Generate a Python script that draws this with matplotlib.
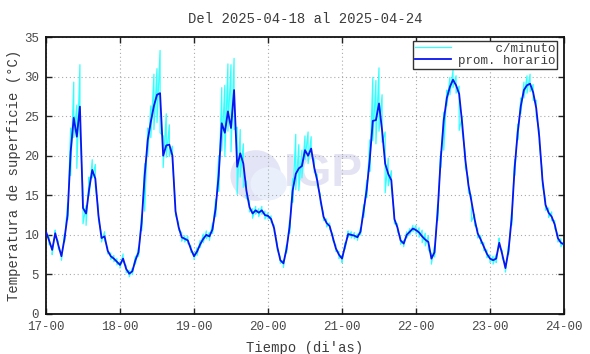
#!/usr/bin/python
# -*- coding: utf-8 -*-
# temperatura de superficie, promedio horario y datos por minuto (estilo gnuplot)

import numpy as np
import matplotlib as mpl
mpl.use('Agg')
from matplotlib import pyplot as plt
from matplotlib.lines import Line2D
from matplotlib.patches import Ellipse

##########################################################################################
# data: hourly means per day, 00h .. 23h
days = [17, 18, 19, 20, 21, 22, 23]

prom_17 = [10.4, 9.3, 8.1, 10.2, 8.7, 7.3, 9.5, 12.5, 20.5, 24.8, 22.4, 26.2,
           13.4, 12.7, 15.8, 18.2, 17.1, 12.5, 9.6, 9.8, 8.0, 7.3, 7.0, 6.6]
prom_18 = [6.2, 7.0, 5.7, 5.1, 5.4, 6.8, 7.8, 11.5, 17.5, 22.0, 24.3, 26.3,
           27.7, 27.9, 20.0, 21.3, 21.4, 20.0, 13.0, 11.0, 9.7, 9.5, 9.3, 8.2]
prom_19 = [7.3, 7.9, 8.8, 9.5, 10.0, 9.8, 10.7, 13.3, 17.5, 24.1, 22.9, 25.6,
           23.5, 28.3, 18.6, 20.3, 19.0, 15.6, 13.5, 12.7, 13.1, 12.8, 13.1, 12.5]
prom_20 = [12.4, 12.0, 10.8, 8.5, 6.8, 6.4, 8.2, 11.0, 15.6, 17.7, 18.4, 18.7,
           20.7, 20.0, 20.9, 18.5, 16.8, 14.5, 12.3, 11.5, 11.1, 9.7, 8.3, 7.5]
prom_21 = [7.0, 8.6, 10.1, 10.0, 9.9, 9.7, 10.4, 13.0, 15.7, 19.5, 24.4, 24.5,
           26.6, 23.2, 19.0, 17.7, 16.9, 12.0, 10.9, 9.3, 8.9, 10.0, 10.4, 10.8]
prom_22 = [10.6, 10.3, 9.8, 9.4, 9.1, 7.0, 7.8, 12.8, 19.5, 24.5, 27.3, 28.7,
           29.6, 28.9, 27.8, 24.0, 19.5, 16.3, 14.2, 12.0, 10.2, 9.4, 8.5, 7.6]
prom_23 = [7.0, 6.8, 7.0, 9.0, 7.5, 5.8, 8.0, 12.0, 18.5, 23.0, 26.3, 28.3,
           28.9, 29.1, 28.0, 26.0, 22.3, 17.0, 13.8, 12.8, 12.3, 11.3, 9.6, 9.0]
prom_end = 8.8   # value at 24-00

# per-minute data: largest excursion above / below the hourly mean in each hour
sube_17 = [0.4, 0.5, 0.4, 0.4, 0.5, 0.4, 0.6, 1.5, 3.0, 4.5, 4.0, 5.3,
           2.0, 1.0, 1.5, 1.3, 1.8, 0.8, 0.5, 0.6, 0.4, 0.4, 0.4, 0.4]
baja_17 = [0.4, 0.5, 0.6, 0.4, 0.5, 0.5, 0.4, 0.6, 3.0, 2.5, 4.0, 3.0,
           2.0, 1.5, 0.8, 1.0, 1.0, 0.6, 0.5, 0.5, 0.4, 0.4, 0.4, 0.4]
sube_18 = [0.4, 0.6, 0.4, 0.4, 0.4, 0.5, 0.6, 1.0, 1.5, 1.5, 2.0, 4.0,
           3.3, 5.4, 2.5, 4.0, 2.5, 1.2, 0.8, 0.5, 0.6, 0.4, 0.5, 0.4]
baja_18 = [0.4, 0.4, 0.5, 0.4, 0.4, 0.5, 0.5, 1.0, 4.5, 2.0, 2.0, 3.0,
           3.5, 5.0, 1.5, 1.5, 1.5, 0.8, 0.5, 0.4, 0.5, 0.4, 0.4, 0.4]
sube_19 = [0.4, 0.5, 0.5, 0.6, 0.5, 0.5, 0.8, 1.2, 2.5, 4.5, 6.0, 6.0,
           8.0, 4.0, 5.0, 3.0, 2.5, 1.2, 0.8, 0.6, 0.5, 0.5, 0.5, 0.5]
baja_19 = [0.4, 0.5, 0.4, 0.5, 0.5, 0.5, 0.5, 1.0, 2.0, 3.5, 3.0, 2.5,
           3.0, 5.0, 3.5, 3.0, 3.0, 1.0, 0.6, 0.6, 0.5, 0.5, 0.5, 0.5]
sube_20 = [0.4, 0.4, 0.4, 0.4, 0.4, 0.4, 0.5, 0.8, 1.5, 5.0, 3.0, 2.0,
           1.8, 3.0, 1.5, 1.0, 0.8, 0.6, 0.5, 0.5, 0.4, 0.4, 0.4, 0.4]
baja_20 = [0.4, 0.4, 0.4, 0.4, 0.4, 0.5, 0.5, 0.8, 1.5, 2.0, 2.8, 1.5,
           1.2, 1.0, 0.8, 0.6, 0.6, 0.5, 0.5, 0.5, 0.4, 0.4, 0.4, 0.5]
sube_21 = [0.4, 0.4, 0.4, 0.4, 0.4, 0.4, 0.5, 0.8, 1.2, 2.5, 5.5, 5.0,
           4.5, 4.5, 4.0, 2.0, 1.2, 0.6, 0.5, 0.4, 0.4, 0.4, 0.4, 0.4]
baja_21 = [0.5, 0.4, 0.4, 0.4, 0.4, 0.4, 0.4, 0.8, 1.0, 1.5, 2.5, 3.0,
           3.5, 1.5, 3.7, 1.5, 1.0, 0.6, 0.5, 0.5, 0.4, 0.4, 0.4, 0.4]
sube_22 = [0.6, 0.6, 0.8, 0.8, 0.8, 0.6, 0.8, 1.0, 1.0, 1.0, 1.0, 1.2,
           1.2, 1.2, 1.0, 1.0, 0.8, 0.8, 0.8, 0.6, 0.6, 0.5, 0.5, 0.5]
baja_22 = [0.5, 0.6, 0.8, 0.8, 1.0, 0.7, 0.6, 1.0, 1.0, 3.8, 1.0, 1.0,
           1.0, 1.0, 4.6, 1.0, 1.0, 1.0, 2.5, 0.8, 0.6, 0.5, 0.5, 0.5]
sube_23 = [0.5, 0.5, 0.5, 0.6, 0.5, 0.5, 0.6, 0.8, 1.0, 1.0, 1.0, 1.0,
           1.2, 1.2, 1.0, 1.0, 0.8, 0.8, 0.7, 0.6, 0.6, 0.5, 0.5, 0.5]
baja_23 = [0.5, 0.5, 0.5, 0.5, 0.5, 0.5, 0.5, 0.8, 1.0, 1.0, 1.0, 1.0,
           1.0, 1.0, 1.0, 1.0, 0.8, 0.8, 0.7, 0.6, 0.5, 0.5, 0.5, 0.5]
sube_end, baja_end = 0.4, 0.4

titlestr = 'Del 2025-04-18 al 2025-04-24'
xlabelstr = "Tiempo (di'as)"
ylabelstr = 'Temperatura de superficie (°C)'
legend_labels = ['c/minuto', 'prom. horario']

##########################################################################################
def Plot():
    mpl.rcParams['font.family'] = ['Liberation Mono', 'DejaVu Sans Mono']
    mpl.rcParams['text.color'] = '#3c3c3c'
    mpl.rcParams['axes.labelcolor'] = '#3c3c3c'
    mpl.rcParams['xtick.color'] = '#222222'
    mpl.rcParams['ytick.color'] = '#222222'
    mpl.rcParams['xtick.labelcolor'] = '#4a4a4a'
    mpl.rcParams['ytick.labelcolor'] = '#4a4a4a'

    prom = np.array(prom_17 + prom_18 + prom_19 + prom_20 + prom_21 + prom_22 + prom_23
                    + [prom_end])
    sube = np.array(sube_17 + sube_18 + sube_19 + sube_20 + sube_21 + sube_22 + sube_23
                    + [sube_end])
    baja = np.array(baja_17 + baja_18 + baja_19 + baja_20 + baja_21 + baja_22 + baja_23
                    + [baja_end])
    t = days[0] + np.arange(len(prom)) / 24.0

    # per-minute trace: vertical excursion within each hour, joined hour to hour
    tm = np.repeat(t, 2)
    ym = np.empty(2 * len(prom))
    ym[0::2] = prom + sube
    ym[1::2] = prom - baja

    f = plt.figure(figsize = (5.9, 3.54), dpi = 100)
    ax1 = f.add_axes([46 / 590, 40 / 354, 518 / 590, 277 / 354])

    # watermark logo
    ax1.add_patch(Ellipse((0.405, 0.50), 0.098, 0.183, transform = ax1.transAxes,
                          facecolor = '#e3e5f6', edgecolor = 'none', zorder = 0))
    ax1.add_patch(Ellipse((0.43, 0.47), 0.07, 0.12, transform = ax1.transAxes,
                          facecolor = '#eaf0fb', edgecolor = 'none', zorder = 0))
    ax1.text(0.535, 0.505, 'IGP', transform = ax1.transAxes, fontsize = 33,
             fontweight = 'bold', family = 'Liberation Sans', color = '#e3e3f3',
             ha = 'center', va = 'center', zorder = 0)

    ax1.plot(tm, ym, color = '#33ffff', lw = 0.9, zorder = 2)
    ax1.plot(t, prom, color = '#0a14f0', lw = 1.3, zorder = 3)

    ax1.set_xlim(17, 24)
    ax1.set_ylim(0, 35)
    ax1.set_xticks(days + [24])
    ax1.set_xticklabels(['%d-00' % d for d in days + [24]])
    ax1.set_yticks(np.arange(0, 36, 5))

    ax1.tick_params('both', direction = 'in', length = 4.0, width = 1.0,
                    top = True, right = True, labelsize = 9, pad = 5)
    for sp in ax1.spines.values():
        sp.set_linewidth(1.3)
        sp.set_color('#111111')

    ax1.grid(True, color = '#aaaaaa', linestyle = (0, (1, 2.5)), linewidth = 0.8)
    ax1.set_axisbelow(True)

    ax1.set_title(titlestr, fontsize = 10, pad = 10)
    ax1.set_xlabel(xlabelstr, fontsize = 10, labelpad = 6)
    ax1.set_ylabel(ylabelstr, fontsize = 10, labelpad = 2.5)

    # legend, text right-justified as in gnuplot keys
    n = max(len(s) for s in legend_labels)
    handles = [Line2D([], [], color = '#33ffff', lw = 0.9),
               Line2D([], [], color = '#0a14f0', lw = 1.3)]
    leg = ax1.legend(handles, [s.rjust(n) for s in legend_labels],
                     loc = 'upper right', bbox_to_anchor = (0.9865, 0.9856),
                     borderaxespad = 0, fontsize = 9, handlelength = 2.9,
                     handletextpad = 0.5, borderpad = 0.15, labelspacing = 0.0,
                     fancybox = False, framealpha = 1.0, edgecolor = '#333333')
    leg.get_frame().set_linewidth(1.0)

    f.savefig('out.png', dpi = 100)
    plt.close()

if __name__ == '__main__':
    Plot()
